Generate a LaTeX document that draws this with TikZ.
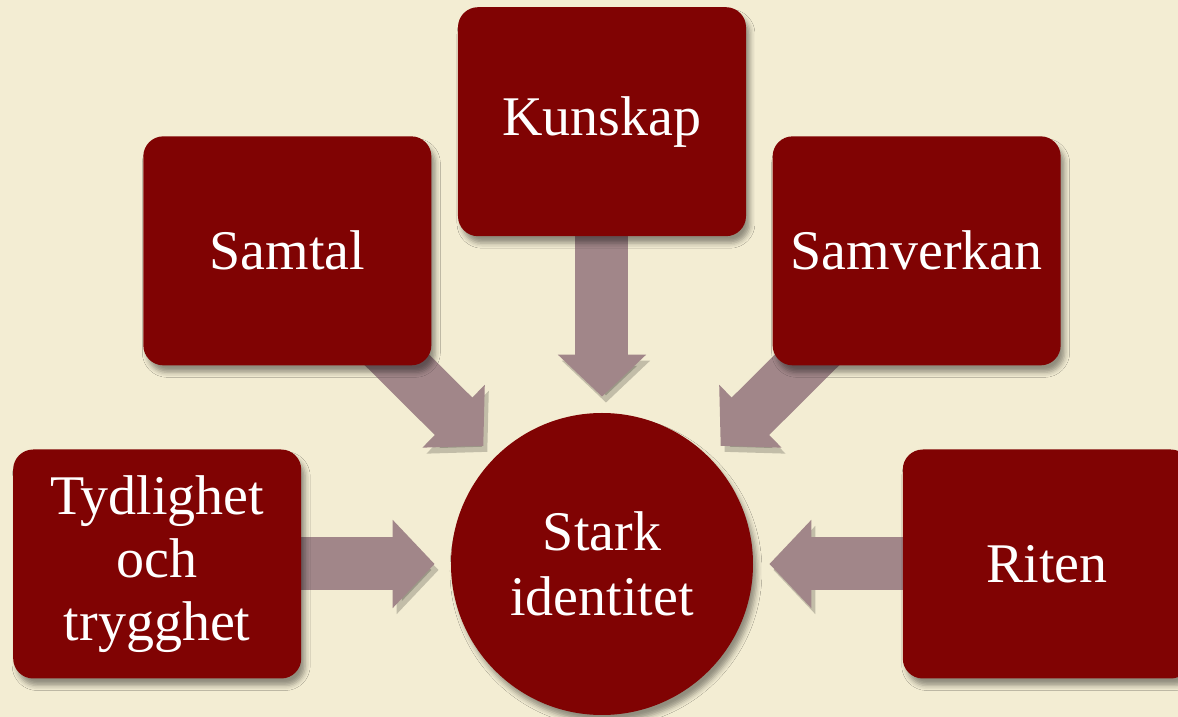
\documentclass[tikz,border=0pt]{standalone}
\usepackage{fontspec}
\setmainfont{Liberation Serif}
\usetikzlibrary{positioning,shapes,shadows,shadows.blur,arrows.meta,backgrounds}
\definecolor{boxred}{RGB}{128,3,3}
\definecolor{mauve}{RGB}{161,134,137}
\definecolor{paper}{RGB}{243,237,211}
\tikzstyle{object}=[rectangle, rounded corners=10pt, fill=boxred,
        blur shadow={shadow xshift=2pt, shadow yshift=-3.5pt, shadow blur radius=2.5pt, shadow opacity=40},
        text=white, align=center, minimum width=144pt, minimum height=114.5pt,
        font=\fontsize{28}{31.5}\selectfont]
\tikzstyle{core}=[circle, fill=boxred, inner sep=0pt, minimum size=151pt,
        blur shadow={shadow xshift=2pt, shadow yshift=-3.5pt, shadow blur radius=2.5pt, shadow opacity=40},
        text=white, align=center, font=\fontsize{28}{32.5}\selectfont]
\tikzstyle{link}=[line width=26.5pt, draw=mauve, -{Triangle[width=43pt,length=21pt]}, shorten >=8pt,
        preaction={draw=black, opacity=.2, transform canvas={xshift=2pt,yshift=-3pt}}]

\begin{document}
\begin{tikzpicture}
        \useasboundingbox (-301pt,-76.5pt) rectangle (288pt,282pt);
        \node (Identitet) [core] at (0,0) {Stark\\identitet};
        \node (Kunskap) [object, above=88pt of Identitet] {Kunskap};
        \node (Samtal) [object, above left=45.6pt and 31.6pt of Identitet] {Samtal};
        \node (Samverkan) [object, above right=45.6pt and 31.6pt of Identitet] {Samverkan};
        \node (Tydlighet) [object, left=74.5pt of Identitet] {Tydlighet\\och\\trygghet};
        \node (Riten) [object, right=74.5pt of Identitet] {Riten};
        % paper and arrows go behind the boxes
        \begin{scope}[on background layer]
          \fill[paper] (-301pt,-76.5pt) rectangle (288pt,282pt);
          \draw[link] (Kunskap.center) -- (Identitet);
          \draw[link] (Samtal.center) -- (Identitet);
          \draw[link] (Samverkan.center) -- (Identitet);
          \draw[link] (Tydlighet.center) -- (Identitet);
          \draw[link] (Riten.center) -- (Identitet);
        \end{scope}
\end{tikzpicture}
\end{document}
